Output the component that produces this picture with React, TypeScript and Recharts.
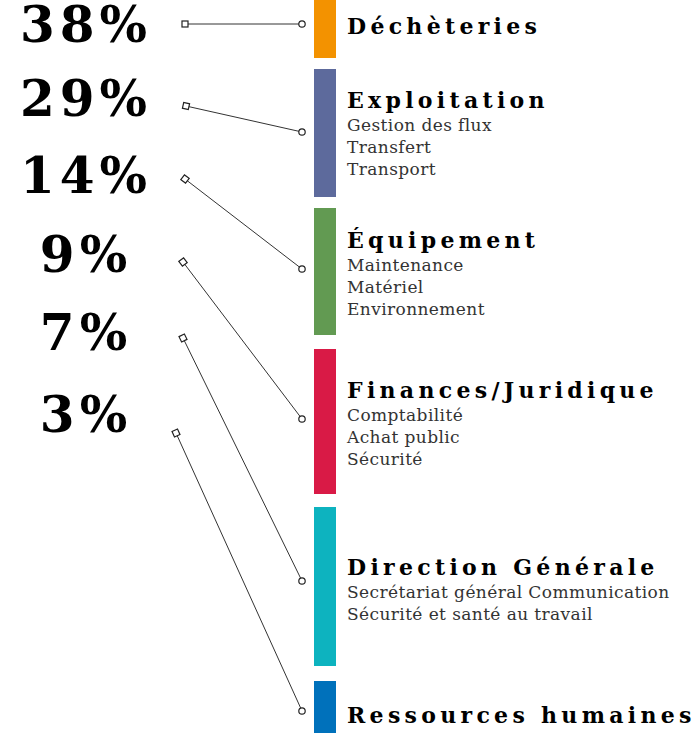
import { BarChart, Bar, ComposedChart, Line, Scatter, XAxis, YAxis } from "recharts";

const W = 697;
const H = 733;
const SERIF = "'DejaVu Serif', serif";

// services shown as coloured blocks on the right
const services = [
    "Déchèteries",
    "Exploitation",
    "Équipement",
    "Finances/Juridique",
    "Direction Générale",
    "Ressources humaines",
];
const serviceDetails = [
    [],
    ["Gestion des flux", "Transfert", "Transport"],
    ["Maintenance", "Matériel", "Environnement"],
    ["Comptabilité", "Achat public", "Sécurité"],
    ["Secrétariat général Communication", "Sécurité et santé au travail"],
    [],
];
const serviceColors = ["#F39200", "#5D6A9C", "#629A52", "#D91A46", "#0DB3BF", "#0071BB"];
const blockGaps = [0, 11, 11, 14, 13, 15];
const blockHeights = [58, 128, 127, 145, 159, 52];
const titleLevels = [34, 108, 248, 398, 575, 723];

// percentages on the left and their connectors
const percents = [38, 29, 14, 9, 7, 3];
const percentLevels = [42, 116, 193, 272, 350, 432];
const linkStartX = [185, 186, 185, 183, 183, 176];
const linkStartY = [24, 106, 179, 262, 338, 433];
const linkEndY = [24, 132, 269, 419, 581, 711];

const blockRow: Record<string, string | number> = { name: "services" };
services.forEach((_, i) => {
    blockRow[`gap${i}`] = blockGaps[i];
    blockRow[`block${i}`] = blockHeights[i];
});

const links = percents.map((_, i) => [
    { x: linkStartX[i], y: linkStartY[i] },
    { x: 302, y: linkEndY[i] },
]);

const percentData = percents.map((p, i) => ({ x: 86, y: percentLevels[i], label: `${p}%` }));

const titleData = services.map((s, i) => ({ x: 347, y: titleLevels[i], name: s, lines: serviceDetails[i] }));

const LinkDot = (props: any) => {
    const { cx, cy, index, points } = props;
    if (index === 1) {
        return <circle key={`c-${index}`} cx={cx} cy={cy} r={3.2} fill="#fff" stroke="#222" strokeWidth={1.2} />;
    }
    let angle = 0;
    if (points && points.length > 1) {
        angle = (Math.atan2(points[1].y - points[0].y, points[1].x - points[0].x) * 180) / Math.PI;
    }
    return (
        <rect
            key={`s-${index}`}
            x={cx - 3}
            y={cy - 3}
            width={6}
            height={6}
            fill="#fff"
            stroke="#222"
            strokeWidth={1.2}
            transform={`rotate(${angle} ${cx} ${cy})`}
        />
    );
};

const PercentLabel = (props: any) => (
    <text
        x={props.cx}
        y={props.cy}
        textAnchor="middle"
        fontFamily={SERIF}
        fontWeight="bold"
        fontSize={50}
        letterSpacing={5}
        fill="#000"
    >
        {props.payload.label}
    </text>
);

const TitleLabel = (props: any) => {
    const { cx, cy, payload } = props;
    return (
        <g>
            <text x={cx} y={cy} fontFamily={SERIF} fontWeight="bold" fontSize={22} letterSpacing={4.3} fill="#000">
                {payload.name}
            </text>
            {payload.lines.map((l: string, j: number) => (
                <text key={j} x={cx} y={cy + 23 + j * 22} fontFamily={SERIF} fontSize={17} letterSpacing={0.4} fill="#333">
                    {l}
                </text>
            ))}
        </g>
    );
};

const App = () => {
    return (
        <div style={{ position: "absolute", left: 0, top: 0, width: W, height: H, background: "#fff" }}>
            <div style={{ position: "absolute", left: 0, top: 0 }}>
                <BarChart
                    width={W}
                    height={H}
                    data={[blockRow]}
                    margin={{ top: 0, right: W - 336, bottom: 0, left: 314 }}
                    barCategoryGap={0}
                    barGap={0}
                >
                    <XAxis dataKey="name" hide />
                    <YAxis type="number" domain={[0, H]} reversed hide />
                    {services.map((s, i) => [
                        <Bar key={`g${i}`} dataKey={`gap${i}`} stackId="s" fill="transparent" isAnimationActive={false} />,
                        <Bar key={`b${i}`} dataKey={`block${i}`} name={s} stackId="s" fill={serviceColors[i]} isAnimationActive={false} />,
                    ])}
                </BarChart>
            </div>
            <div style={{ position: "absolute", left: 0, top: 0 }}>
                <ComposedChart width={W} height={H} margin={{ top: 0, right: 0, bottom: 0, left: 0 }}>
                    <XAxis type="number" dataKey="x" domain={[0, W]} hide />
                    <YAxis type="number" dataKey="y" domain={[0, H]} reversed hide />
                    {links.map((d, i) => (
                        <Line
                            key={`l${i}`}
                            data={d}
                            dataKey="y"
                            type="linear"
                            stroke="#333"
                            strokeWidth={1}
                            dot={LinkDot}
                            isAnimationActive={false}
                        />
                    ))}
                    <Scatter data={percentData} dataKey="y" shape={PercentLabel} isAnimationActive={false} />
                    <Scatter data={titleData} dataKey="y" shape={TitleLabel} isAnimationActive={false} />
                </ComposedChart>
            </div>
        </div>
    );
};

export default App;
